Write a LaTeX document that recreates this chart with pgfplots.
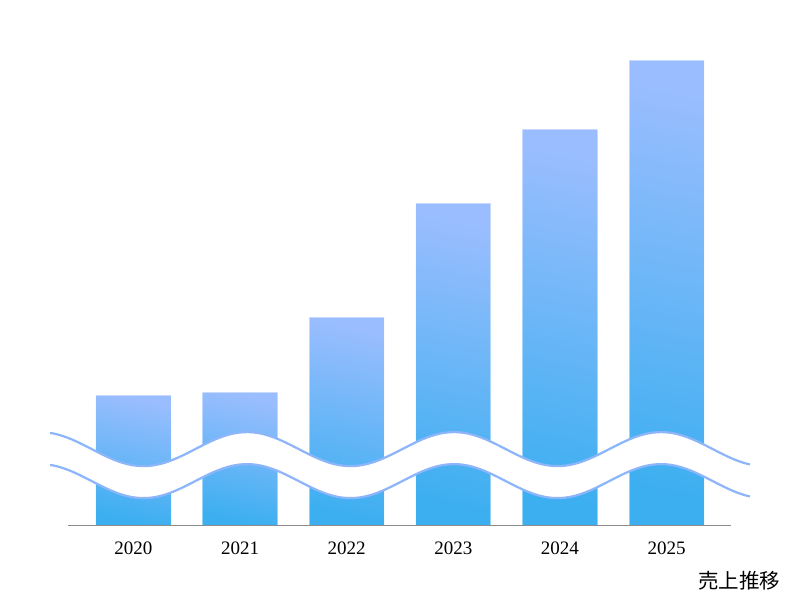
\documentclass[border=0pt]{standalone}
\usepackage{pgfplots}
\pgfplotsset{compat=1.18}
\usepackage{fontspec}
\setmainfont{Liberation Serif}
\newfontfamily\cjk{Noto Sans CJK JP}

\definecolor{bartop}{HTML}{99BDFE}
\definecolor{barbot}{HTML}{3CAFF0}
\definecolor{waveline}{HTML}{8CB5FA}
\definecolor{axisgray}{HTML}{8C8C8C}

\begin{document}
\begin{tikzpicture}
\begin{axis}[
    scale only axis,
    width=331.5pt, height=242.5pt,
    xmin=-0.6144, xmax=5.605,
    ymin=0, ymax=485,
    clip=false,
    axis line style={draw=none},
    hide y axis,
    xtick={0,1,2,3,4,5},
    xticklabels={2020,2021,2022,2023,2024,2025},
    major tick length=0pt,
    /pgf/number format/assume math mode=true,
    xticklabel style={font=\fontsize{9.5}{11}\selectfont, anchor=base, yshift=-14.5pt},
    salesbar/.style={
        ybar, bar width=0.7036, bar shift=0pt,
        top color=bartop, bottom color=barbot, shading angle=-12,
        draw=white, draw opacity=0.45, line width=0.5pt},
]

% bar heights (px above baseline), one plot per bar
% so that each bar gets its own gradient
\addplot[salesbar] coordinates {(0,130)};
\addplot[salesbar] coordinates {(1,133)};
\addplot[salesbar] coordinates {(2,208)};
\addplot[salesbar] coordinates {(3,322)};
\addplot[salesbar] coordinates {(4,396)};
\addplot[salesbar] coordinates {(5,465)};

% white wave band (broken axis mark)
\fill[white]
    plot[domain=-0.783:5.783, samples=160, smooth] (\x, {76 + 17*cos(185.39*\x - 197.39)})
    -- plot[domain=5.783:-0.783, samples=160, smooth] (\x, {44 + 17*cos(185.39*\x - 197.39)})
    -- cycle;
\draw[waveline, line width=1.1pt]
    plot[domain=-0.783:5.783, samples=160, smooth] (\x, {76 + 17*cos(185.39*\x - 197.39)});
\draw[waveline, line width=1.1pt]
    plot[domain=-0.783:5.783, samples=160, smooth] (\x, {44 + 17*cos(185.39*\x - 197.39)});

\draw[axisgray, line width=0.6pt] (rel axis cs:0,0) -- (rel axis cs:1,0);

\node[font=\cjk\fontsize{10.25}{12}\selectfont] at (axis cs:5.680,-56) {売上推移};

% fix the page to the reference size
\path (axis cs:-1.2523,-77) rectangle (axis cs:6.2523,525);
\end{axis}
\end{tikzpicture}
\end{document}
